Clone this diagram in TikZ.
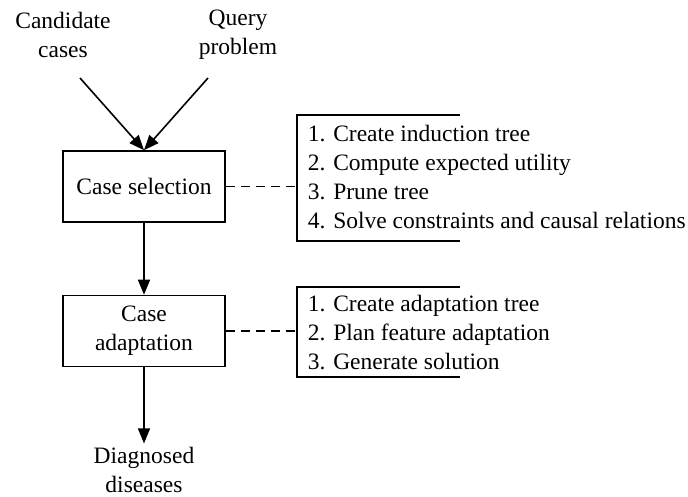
\documentclass[tikz,border=0pt]{standalone}
\usepackage{fontspec}
\setmainfont{Liberation Serif}
\usetikzlibrary{arrows.meta}

\begin{document}
\begin{tikzpicture}[x=1pt,y=-1pt,line width=1.6pt,>={Triangle[length=15pt,width=12pt]},
  every node/.style={font=\fontsize{23.5}{29}\selectfont,align=center},
  box/.style={draw,minimum width=162pt,minimum height=71pt,inner sep=2pt},
  steps/.style={align=left,anchor=west,inner sep=0pt},
  link/.style={dash pattern=on 9pt off 6pt}]
  \useasboundingbox (0,0) rectangle (688,497);
  % entradas
  \node (cand) at (63,35) {Candidate\\cases};
  \node (query) at (238,35) {Query\\problem};
  % bloques
  \node[box] (sel) at (144,186.5) {Case selection};
  \node[box] (adp) at (144,331) {Case\\adaptation};
  \node[inner sep=1pt] (diag) at (144,470) {Diagnosed\\diseases};
  \draw[->] (80,78) -- (sel.north);
  \draw[->] (208,78) -- (sel.north);
  \draw[->] (sel) -- (adp);
  \draw[->] (adp) -- ([yshift=2pt]diag.north);
  % pasos de seleccion
  \coordinate (selbr) at (297,186.5);
  \draw (460,115) -- (297,115) -- (297,241) -- (460,241);
  \node[steps] (selsteps) at (307,177) {1. Create induction tree\\2. Compute expected utility\\3. Prune tree\\4. Solve constraints and causal relations};
  \draw[link] (sel.east) -- (selbr);
  % pasos de adaptacion
  \coordinate (adpbr) at (297,331);
  \draw (460,287) -- (297,287) -- (297,377) -- (460,377);
  \node[steps] (adpsteps) at (307,333) {1. Create adaptation tree\\2. Plan feature adaptation\\3. Generate solution};
  \draw[link] (adp.east) -- (adpbr);
\end{tikzpicture}
\end{document}
